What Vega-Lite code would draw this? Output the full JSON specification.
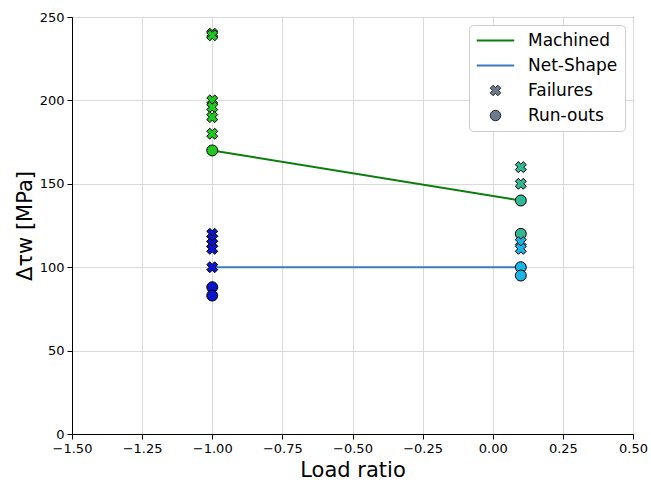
{
  "$schema": "https://vega.github.io/schema/vega-lite/v6.json",
  "autosize": "none",
  "width": 561,
  "height": 417,
  "padding": {"left": 72, "top": 17, "right": 18, "bottom": 49},
  "background": "white",
  "config": {
    "font": "DejaVu Sans",
    "view": {"stroke": "black", "strokeWidth": 1},
    "axis": {
      "domainColor": "black",
      "tickColor": "black",
      "tickSize": 5,
      "labelColor": "black",
      "labelFontSize": 13,
      "labelFont": "DejaVu Sans",
      "labelFlush": false,
      "titleFont": "DejaVu Sans",
      "titleFontSize": 21,
      "titleFontWeight": "normal",
      "titleColor": "black",
      "gridColor": "#d9d9d9",
      "gridWidth": 1,
      "labelPadding": 3
    }
  },
  "datasets": {
    "lines": [
      {"group": "Machined", "R": -1, "tau": 170},
      {"group": "Machined", "R": 0.1, "tau": 140},
      {"group": "Net-Shape", "R": -1, "tau": 100},
      {"group": "Net-Shape", "R": 0.1, "tau": 100}
    ],
    "points": [
      {"series": "Machined R=-1", "R": -1, "tau": 240, "type": "Failures"},
      {"series": "Machined R=-1", "R": -1, "tau": 239, "type": "Failures"},
      {"series": "Machined R=-1", "R": -1, "tau": 200, "type": "Failures"},
      {"series": "Machined R=-1", "R": -1, "tau": 196, "type": "Failures"},
      {"series": "Machined R=-1", "R": -1, "tau": 190, "type": "Failures"},
      {"series": "Machined R=-1", "R": -1, "tau": 180, "type": "Failures"},
      {"series": "Machined R=-1", "R": -1, "tau": 170, "type": "Run-outs"},
      {"series": "Net-Shape R=-1", "R": -1, "tau": 120, "type": "Failures"},
      {"series": "Net-Shape R=-1", "R": -1, "tau": 117, "type": "Failures"},
      {"series": "Net-Shape R=-1", "R": -1, "tau": 114, "type": "Failures"},
      {"series": "Net-Shape R=-1", "R": -1, "tau": 111, "type": "Failures"},
      {"series": "Net-Shape R=-1", "R": -1, "tau": 100, "type": "Failures"},
      {"series": "Net-Shape R=-1", "R": -1, "tau": 88, "type": "Run-outs"},
      {"series": "Net-Shape R=-1", "R": -1, "tau": 83, "type": "Run-outs"},
      {"series": "Machined R=0.1", "R": 0.1, "tau": 160, "type": "Failures"},
      {"series": "Machined R=0.1", "R": 0.1, "tau": 150, "type": "Failures"},
      {"series": "Machined R=0.1", "R": 0.1, "tau": 140, "type": "Run-outs"},
      {"series": "Machined R=0.1", "R": 0.1, "tau": 120, "type": "Run-outs"},
      {"series": "Net-Shape R=0.1", "R": 0.1, "tau": 115, "type": "Failures"},
      {"series": "Net-Shape R=0.1", "R": 0.1, "tau": 111, "type": "Failures"},
      {"series": "Net-Shape R=0.1", "R": 0.1, "tau": 100, "type": "Run-outs"},
      {"series": "Net-Shape R=0.1", "R": 0.1, "tau": 95, "type": "Run-outs"}
    ]
  },
  "layer": [
    {
      "data": {"name": "lines"},
      "mark": {"type": "line", "strokeWidth": 2},
      "encoding": {
        "x": {
          "field": "R", "type": "quantitative",
          "scale": {"domain": [-1.5, 0.5], "nice": false, "zero": false},
          "axis": {
            "title": "Load ratio",
            "values": [-1.5, -1.25, -1, -0.75, -0.5, -0.25, 0, 0.25, 0.5],
            "format": ".2f",
            "titlePadding": 4
          }
        },
        "y": {
          "field": "tau", "type": "quantitative",
          "scale": {"domain": [0, 250], "nice": false},
          "axis": {
            "title": "Δτw [MPa]",
            "values": [0, 50, 100, 150, 200, 250],
            "titlePadding": 4
          }
        },
        "stroke": {
          "field": "group", "type": "nominal",
          "scale": {
            "domain": ["Machined", "Net-Shape", "Failures", "Run-outs"],
            "range": ["#0a7d0a", "#3a7dbf", "#222222", "#222222"]
          },
          "legend": {
            "title": null,
            "orient": "top-right",
            "offset": 8,
            "fillColor": "white",
            "strokeColor": "#cccccc",
            "cornerRadius": 4,
            "padding": 7,
            "labelFontSize": 17,
            "labelFont": "DejaVu Sans",
            "labelColor": "black",
            "symbolSize": 225,
            "symbolOffset": 11,
            "labelOffset": 24,
            "rowPadding": 7,
            "encode": {
              "symbols": {
                "update": {
                  "shape": {"signal": "datum.value == 'Failures' ? 'M-0.45,-1L0,-0.55L0.45,-1L1,-0.45L0.55,0L1,0.45L0.45,1L0,0.55L-0.45,1L-1,0.45L-0.55,0L-1,-0.45Z' : datum.value == 'Run-outs' ? 'circle' : 'M-2.5,0H2.5'"},
                  "size": {"signal": "datum.value == 'Failures' || datum.value == 'Run-outs' ? 110 : 225"},
                  "fill": {"signal": "datum.value == 'Failures' || datum.value == 'Run-outs' ? '#6b7a8f' : 'transparent'"},
                  "stroke": {"signal": "datum.value == 'Machined' ? '#0a7d0a' : datum.value == 'Net-Shape' ? '#3a7dbf' : '#222222'"},
                  "strokeWidth": {"signal": "datum.value == 'Failures' || datum.value == 'Run-outs' ? 1 : 2"},
                  "opacity": {"value": 1}
                }
              }
            }
          }
        }
      }
    },
    {
      "data": {"name": "points"},
      "mark": {"type": "point", "filled": true, "stroke": "black", "strokeWidth": 1, "opacity": 1, "size": 120},
      "encoding": {
        "x": {"field": "R", "type": "quantitative"},
        "y": {"field": "tau", "type": "quantitative"},
        "shape": {
          "field": "type", "type": "nominal",
          "scale": {
            "domain": ["Failures", "Run-outs"],
            "range": ["M-0.45,-1L0,-0.55L0.45,-1L1,-0.45L0.55,0L1,0.45L0.45,1L0,0.55L-0.45,1L-1,0.45L-0.55,0L-1,-0.45Z", "circle"]
          },
          "legend": null
        },
        "fill": {
          "field": "series", "type": "nominal",
          "scale": {
            "domain": ["Machined R=-1", "Machined R=0.1", "Net-Shape R=-1", "Net-Shape R=0.1"],
            "range": ["#1ec81e", "#33b896", "#0a14cc", "#1ab4e6"]
          },
          "legend": null
        }
      }
    }
  ]
}
